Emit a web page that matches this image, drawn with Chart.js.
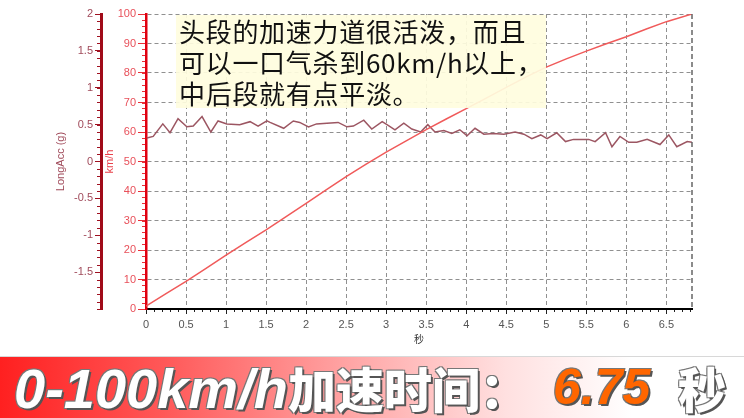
<!DOCTYPE html>
<html>
<head>
<meta charset="utf-8">
<script src="https://cdn.jsdelivr.net/npm/chart.js@4.4.1/dist/chart.umd.min.js"></script>
<style>
  html, body { margin: 0; padding: 0; background: #fff; }
  #wrap { position: relative; width: 744px; height: 418px; overflow: hidden; }
  #chart { position: absolute; left: 0; top: 0; }
  #note {
    position: absolute; left: 176px; top: 15px;
    font-family: "Noto Sans CJK SC", sans-serif; font-size: 26px; line-height: 31px;
    color: #111; background: rgba(255, 253, 222, 0.92);
    padding: 0 3px; letter-spacing: 0.7px;
  }
  #banner {
    position: absolute; left: 0; top: 356px; width: 744px; height: 62px;
    background: linear-gradient(90deg, #ff2020 0%, #ff5858 22%, #ffa8a8 48%, #ffe0e0 68%, #ffffff 85%);
    border-top: 1px solid #d8d8d8;
  }
  #banner .t {
    position: absolute; top: 0px; white-space: nowrap;
    font-family: "Liberation Sans", "Noto Sans CJK SC", sans-serif; font-weight: 900; font-style: italic;
    font-size: 56px; line-height: 60px; color: #fff;
    text-shadow: 2px 2px 0 #555, -1px -1px 0 #777, 1px -1px 0 #777, -1px 1px 0 #777;
  }
  #banner .cn { font-family: "Noto Sans CJK SC", sans-serif; font-weight: 900; font-style: normal; font-size: 48px; }
  #banner .num { color: #ff6600; font-size: 50px; }
</style>
</head>
<body>
<div id="wrap">
  <canvas id="chart" width="744" height="418"></canvas>
  <div id="note">头段的加速力道很活泼，而且<br>可以一口气杀到60km/h以上，<br>中后段就有点平淡。</div>
  <div id="banner">
    <div class="t" style="left:14px">0-100km/h<span class="cn">加速时间：</span></div>
    <div class="t num" style="left:553px">6.75</div>
    <div class="t cn" style="left:678px">秒</div>
  </div>
</div>
<script>
// speed trace (km/h) against time (s)
const speedTimes = [0, 0.25, 0.5, 0.75, 1.0, 1.25, 1.5, 1.75, 2.0, 2.25, 2.5, 2.75, 3.0, 3.25, 3.5,
    3.75, 4.0, 4.25, 4.5, 4.75, 5.0, 5.25, 5.5, 5.75, 6.0, 6.25, 6.5, 6.82];
const speedValues = [1, 5.2, 9.4, 13.8, 18.3, 22.6, 26.8, 31.3, 35.8, 40.4, 44.9, 49.1, 53.2, 57.0, 60.8,
    64.4, 67.9, 71.5, 75.1, 78.7, 82.0, 84.8, 87.4, 89.9, 92.3, 94.9, 97.4, 100];

// longitudinal acceleration (g) against time (s)
const accTimes = [0.01, 0.09, 0.21, 0.30, 0.40, 0.51, 0.59, 0.70, 0.81, 0.90, 1.01, 1.17, 1.30, 1.40, 1.51,
    1.55, 1.72, 1.84, 1.92, 2.03, 2.13, 2.26, 2.40, 2.51, 2.59, 2.72, 2.82, 2.95, 3.01, 3.11, 3.22,
    3.32, 3.43, 3.52, 3.61, 3.72, 3.82, 3.92, 4.01, 4.11, 4.22, 4.34, 4.47, 4.61, 4.72, 4.82, 4.93,
    5.01, 5.13, 5.24, 5.34, 5.53, 5.61, 5.74, 5.82, 5.92, 6.03, 6.13, 6.26, 6.42, 6.53, 6.63, 6.76, 6.82];
const accValues = [0.32, 0.34, 0.51, 0.39, 0.58, 0.47, 0.48, 0.61, 0.40, 0.55, 0.51, 0.50, 0.54, 0.48, 0.55,
    0.53, 0.45, 0.55, 0.53, 0.47, 0.51, 0.52, 0.53, 0.47, 0.48, 0.56, 0.44, 0.54, 0.50, 0.43, 0.52,
    0.44, 0.40, 0.50, 0.40, 0.42, 0.38, 0.43, 0.35, 0.45, 0.37, 0.38, 0.37, 0.40, 0.37, 0.31, 0.36,
    0.31, 0.39, 0.27, 0.30, 0.30, 0.27, 0.39, 0.20, 0.34, 0.26, 0.26, 0.30, 0.23, 0.36, 0.20, 0.27, 0.26];

const timeTicks = [0, 0.5, 1, 1.5, 2, 2.5, 3, 3.5, 4, 4.5, 5, 5.5, 6, 6.5];
const speedTicks = [0, 10, 20, 30, 40, 50, 60, 70, 80, 90, 100];
const accTicks = [2, 1.5, 1, 0.5, 0, -0.5, -1, -1.5];

const toPoints = (xs, ys) => xs.map((x, i) => ({ x: x, y: ys[i] }));
const plainLabel = v => String(v);

// dashed right edge + small minor ticks
const extras = {
    id: 'extras',
    afterDraw(chart) {
        const ctx = chart.ctx;
        const a = chart.chartArea;
        const sx = chart.scales.x, sy = chart.scales.y, sa = chart.scales.yAcc;
        ctx.save();
        ctx.strokeStyle = '#666';
        ctx.lineWidth = 1.5;
        ctx.setLineDash([5, 3]);
        ctx.beginPath();
        ctx.moveTo(a.right, a.top);
        ctx.lineTo(a.right, a.bottom);
        ctx.stroke();
        ctx.setLineDash([]);

        ctx.lineWidth = 1;
        ctx.strokeStyle = '#222';
        ctx.beginPath();
        for (let v = 0.1; v < sx.max; v += 0.1) {
            const px = Math.round(sx.getPixelForValue(v)) + 0.5;
            ctx.moveTo(px, a.bottom + 1);
            ctx.lineTo(px, a.bottom + 3);
        }
        ctx.stroke();

        ctx.strokeStyle = '#e83038';
        ctx.beginPath();
        for (let v = 2; v < 100; v += 2) {
            const py = Math.round(sy.getPixelForValue(v)) + 0.5;
            ctx.moveTo(a.left - 4, py);
            ctx.lineTo(a.left - 1, py);
        }
        ctx.stroke();

        ctx.strokeStyle = '#a01020';
        ctx.beginPath();
        for (let v = -2; v < 2; v += 0.1) {
            const py = Math.round(sa.getPixelForValue(v)) + 0.5;
            ctx.moveTo(sa.right - 4, py);
            ctx.lineTo(sa.right - 1, py);
        }
        ctx.stroke();
        ctx.restore();
    }
};

const chart = new Chart(document.getElementById('chart'), {
    type: 'line',
    data: {
        datasets: [
            {
                label: 'km/h',
                data: toPoints(speedTimes, speedValues),
                yAxisID: 'y',
                borderColor: '#f05a5a',
                borderWidth: 1.5,
                pointRadius: 0,
                tension: 0
            },
            {
                label: 'LongAcc (g)',
                data: toPoints(accTimes, accValues),
                yAxisID: 'yAcc',
                borderColor: '#9c5662',
                borderWidth: 1.5,
                pointRadius: 0,
                tension: 0
            }
        ]
    },
    options: {
        responsive: false,
        animation: false,
        layout: { padding: { left: 52, right: 52, top: 14, bottom: 73 } },
        plugins: {
            legend: { display: false },
            tooltip: { enabled: false }
        },
        scales: {
            x: {
                type: 'linear',
                min: 0,
                max: 6.82,
                afterBuildTicks: s => { s.ticks = timeTicks.map(v => ({ value: v })); },
                afterFit: s => { s.height = 36; },
                ticks: { color: '#555', font: { family: 'Liberation Sans', size: 11 }, padding: 4, maxRotation: 0, callback: plainLabel },
                grid: { color: '#909090', tickLength: 5, tickColor: '#222', tickBorderDash: [] },
                border: { color: '#000', width: 2, dash: [4, 3] },
                title: { display: true, text: '秒', color: '#333', font: { family: 'Noto Sans CJK SC', size: 10 }, padding: { top: 0, bottom: 0 } }
            },
            y: {
                position: 'left',
                weight: 1,
                min: 0,
                max: 100,
                afterBuildTicks: s => { s.ticks = speedTicks.map(v => ({ value: v })); },
                afterFit: s => { s.width = 45; },
                ticks: { color: '#e8505a', font: { family: 'Liberation Sans', size: 11 }, padding: 2, callback: plainLabel },
                grid: { color: '#909090', tickLength: 8, tickColor: '#e83038', tickBorderDash: [] },
                border: { color: '#e00010', width: 2.5, dash: [4, 3] },
                title: { display: true, text: 'km/h', color: '#e8404a', font: { family: 'Liberation Sans', size: 11 }, padding: { top: 2, bottom: 0 } }
            },
            yAcc: {
                position: 'left',
                weight: 2,
                min: -2,
                max: 2,
                afterBuildTicks: s => { s.ticks = accTicks.map(v => ({ value: v })); },
                afterFit: s => { s.width = 49; },
                ticks: { color: '#a04a5a', font: { family: 'Liberation Sans', size: 11 }, padding: 2, callback: plainLabel },
                grid: { drawOnChartArea: false, tickLength: 6, tickColor: '#a01020' },
                border: { color: '#a00a18', width: 3 },
                title: { display: true, text: 'LongAcc (g)', color: '#a04a5a', font: { family: 'Liberation Sans', size: 11 }, padding: { top: 2, bottom: 0 } }
            }
        }
    },
    plugins: [extras]
});
</script>
</body>
</html>
